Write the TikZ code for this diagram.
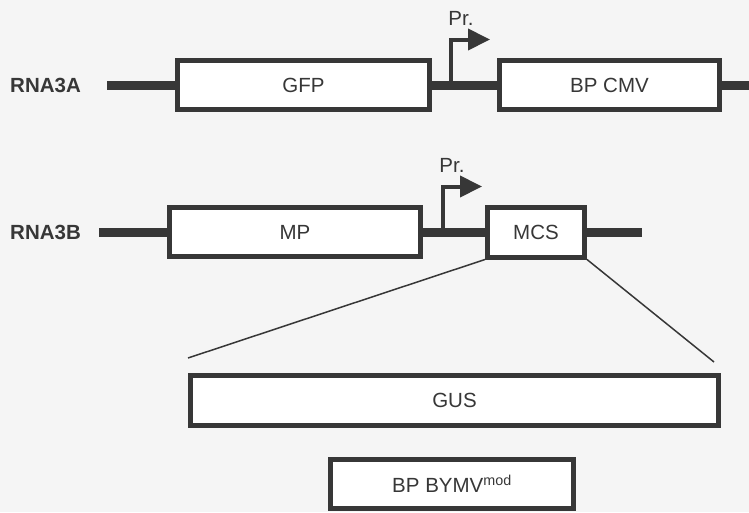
\documentclass[tikz,border=0pt]{standalone}
\usepackage{fontspec}
\setmainfont{Liberation Sans}
\usetikzlibrary{arrows.meta}
\definecolor{ink}{RGB}{55,55,55}
\definecolor{paper}{RGB}{245,245,245}
\newcommand{\genefont}{\fontsize{20.5}{24}\selectfont}
\tikzset{
	gene/.style={draw=ink, line width=5pt, fill=white, inner sep=0pt, text=ink},
	backbone/.style={draw=ink, line width=9pt},
	promoter/.style={draw=ink, line width=4pt, -{Triangle[length=22pt, width=21pt]}},
	zoomline/.style={draw=ink, line width=1.5pt},
	rnalabel/.style={font=\genefont\bfseries, text=ink, inner sep=0pt, anchor=west},
	prlabel/.style={text=ink, inner sep=0pt}
}

\begin{document}
\begin{tikzpicture}[x=1pt, y=-1pt, font=\genefont]
	\fill[paper] (0, 0) rectangle (749, 512);
	\useasboundingbox (0, 0) rectangle (749, 512);
	
	% RNA3A
	\node[rnalabel] (rnaA) at (10, 85) {RNA3A};
	\node[gene, minimum width=252, minimum height=49] (gfp) at (303.5, 85) {GFP};
	\node[gene, minimum width=220, minimum height=49] (cmv) at (609.5, 85) {BP CMV};
	\coordinate (aStart) at (107, 85);
	\coordinate (aEnd) at (749, 85);
	\draw[backbone] (aStart) -- (gfp.west);
	\draw[backbone] (gfp.east) -- (cmv.west);
	\draw[backbone] (cmv.east) -- (aEnd);
	
	\coordinate (prA) at (451, 85);
	\coordinate (prAtip) at (490, 39.5);
	\draw[promoter] (prA) |- (prAtip);
	\node[prlabel] (prAlabel) at (461, 18) {Pr.};
	
	% RNA3B
	\node[rnalabel] (rnaB) at (10, 232) {RNA3B};
	\node[gene, minimum width=251, minimum height=49] (mp) at (295, 232) {MP};
	\node[gene, minimum width=97, minimum height=50] (mcs) at (536, 232) {MCS};
	\coordinate (bStart) at (99, 232);
	\coordinate (bEnd) at (642, 232);
	\draw[backbone] (bStart) -- (mp.west);
	\draw[backbone] (mp.east) -- (mcs.west);
	\draw[backbone] (mcs.east) -- (bEnd);
	
	\coordinate (prB) at (443, 232);
	\coordinate (prBtip) at (482, 186.5);
	\draw[promoter] (prB) |- (prBtip);
	\node[prlabel] (prBlabel) at (452, 165) {Pr.};
	
	% inserts
	\node[gene, minimum width=528, minimum height=50] (gus) at (454.5, 400.5) {GUS};
	\node[gene, minimum width=243, minimum height=49] (bymv) at (452, 484) {BP BYMV\textsuperscript{mod}};
	
	\coordinate (zoomL) at (188, 358);
	\coordinate (zoomR) at (714, 362);
	\draw[zoomline] (mcs.south west) -- (zoomL);
	\draw[zoomline] (mcs.south east) -- (zoomR);
\end{tikzpicture}
\end{document}
